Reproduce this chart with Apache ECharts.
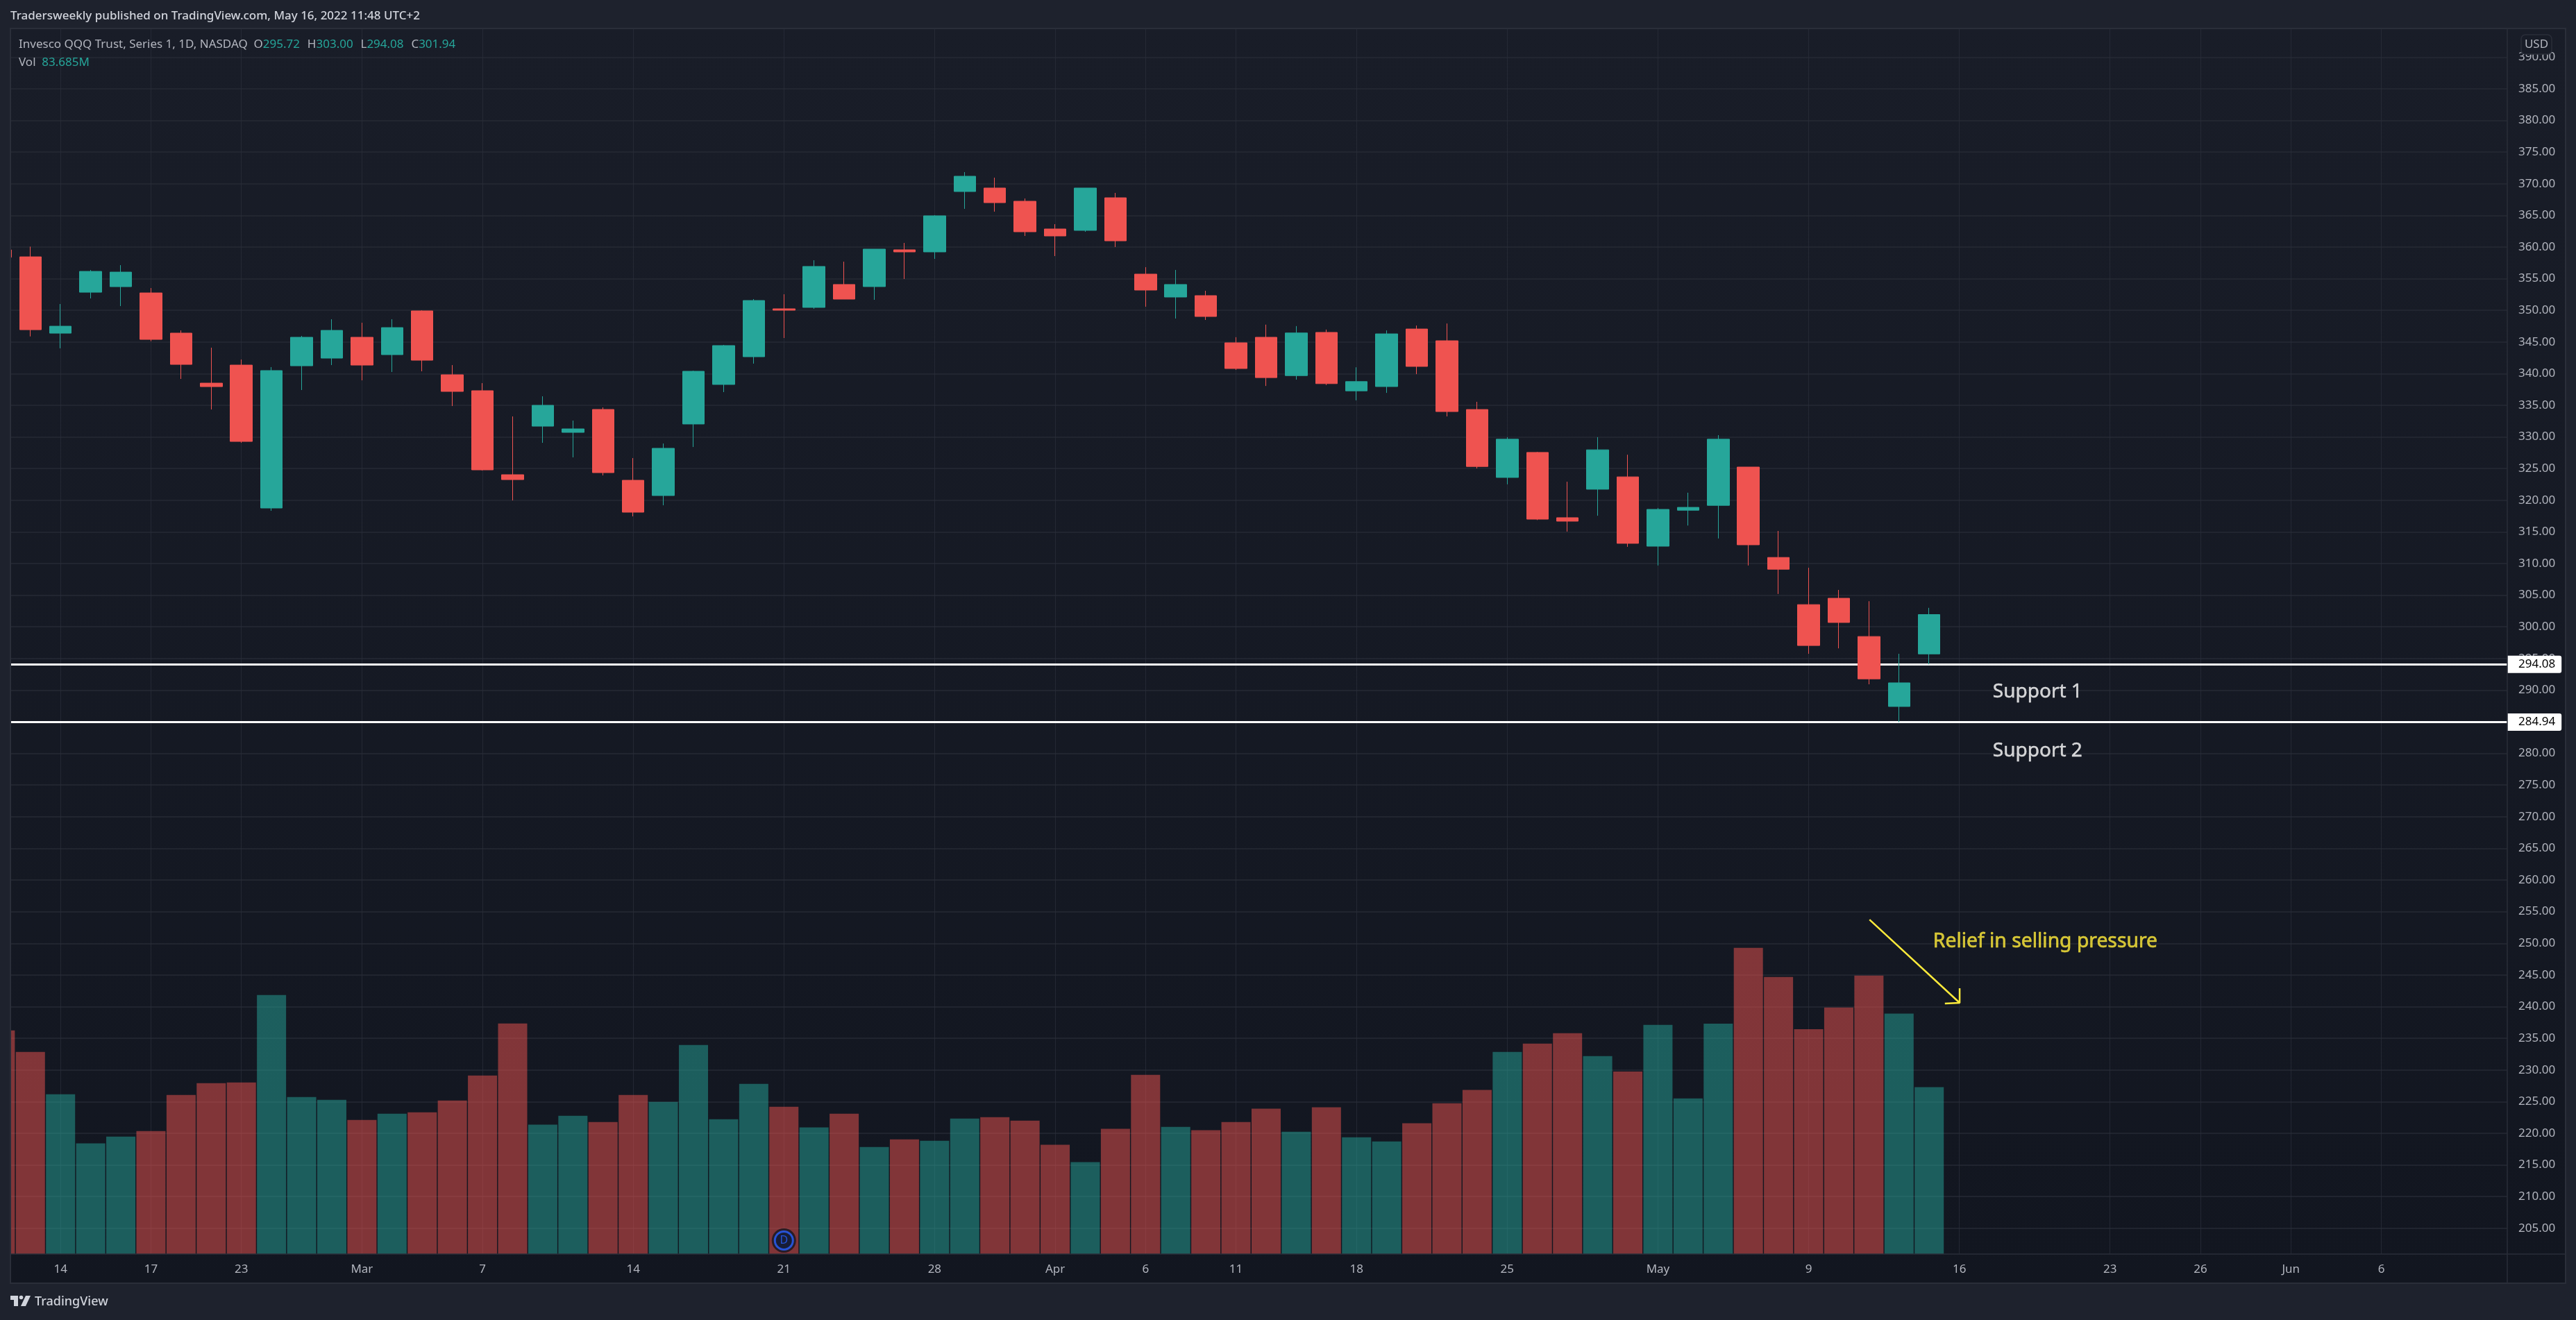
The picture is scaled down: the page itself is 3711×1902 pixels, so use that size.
<!DOCTYPE html>
<html><head><meta charset="utf-8">
<style>html,body{margin:0;padding:0;background:#1e222d}#c{width:3711px;height:1902px}</style>
<script src="https://cdn.jsdelivr.net/npm/echarts@6/dist/echarts.min.js"></script>
</head><body><div id="c"></div>
<script>
// Bar index: 0 = Feb 11 2022; -1 is the clipped bar at the left edge
const barIndex = [-1,0,1,2,3,4,5,6,7,8,9,10,11,12,13,14,15,16,17,18,19,20,21,22,23,24,25,26,27,28,29,30,31,32,33,34,35,36,37,38,39,40,41,42,43,44,45,46,47,48,49,50,51,52,53,54,55,56,57,58,59,60,61,62,63];
const opens  = [359.55,358.45,346.39,352.86,353.74,352.75,346.40,338.50,341.35,318.77,341.24,342.45,345.74,343.00,349.91,339.82,337.30,324.03,331.70,330.72,334.34,323.15,320.74,332.04,338.29,342.67,350.24,350.46,354.08,353.75,359.56,359.23,368.77,369.32,367.23,362.85,362.63,367.78,355.72,352.10,352.32,344.87,345.74,339.69,346.51,337.28,337.96,347.05,345.19,334.33,323.60,327.55,317.24,321.74,323.69,312.74,318.42,319.19,325.24,310.96,303.51,304.51,298.47,287.42,295.72];
const highs  = [360.00,360.06,351.00,356.37,357.14,353.52,346.83,344.10,342.23,341.03,345.96,348.59,348.04,348.59,350.00,341.35,338.50,333.24,336.42,332.58,334.66,326.66,328.96,340.47,344.54,351.77,352.54,357.91,357.69,359.67,360.65,365.04,371.84,370.96,367.67,363.61,369.32,368.55,356.82,356.38,353.09,345.75,347.74,347.51,346.96,341.00,346.83,347.60,347.92,335.55,329.96,327.64,322.92,329.96,327.19,318.78,321.19,330.28,325.24,315.15,309.33,305.83,304.05,295.74,303.00];
const lows   = [357.90,345.88,344.00,351.88,350.67,345.12,339.16,334.34,329.07,318.33,337.41,341.35,338.94,340.26,340.37,334.88,324.69,319.97,329.07,326.77,323.92,317.45,319.20,328.41,337.08,341.58,345.63,350.24,351.77,351.66,354.95,358.13,366.03,365.59,361.75,358.57,362.41,360.00,350.57,348.70,348.48,340.59,338.05,339.05,338.19,335.78,336.96,339.92,333.24,325.01,322.51,316.87,315.05,317.55,312.64,309.69,316.00,313.96,309.69,305.19,295.74,296.60,290.92,284.94,294.08];
const closes = [358.38,346.94,347.49,356.15,356.04,345.41,341.46,337.95,329.29,340.48,345.74,346.83,341.35,347.27,342.12,337.19,324.80,323.26,334.99,331.27,324.36,318.11,328.20,340.37,344.43,351.55,350.02,356.93,351.77,359.67,359.23,364.93,371.18,367.01,362.41,361.75,369.32,360.98,353.20,354.08,349.03,340.81,339.37,346.42,338.42,338.74,346.28,341.14,334.01,325.33,329.64,317.01,316.69,327.96,313.19,318.55,318.87,329.64,312.96,309.10,297.05,300.69,291.78,291.15,301.94];
// Volume in millions of shares
const volumes = [112.2,101.4,80.2,55.5,58.9,61.7,79.8,85.7,86.1,129.9,78.8,77.4,67.3,70.4,71.1,77.0,89.6,115.7,64.9,69.4,66.2,79.8,76.3,104.9,67.6,85.4,73.9,63.5,70.4,53.7,57.5,56.8,68.0,68.7,66.9,54.8,46.1,62.8,89.9,63.8,62.1,66.2,72.9,61.4,73.6,58.6,56.5,65.6,75.6,82.3,101.4,105.6,110.8,99.3,91.6,115.0,78.1,115.6,153.6,139.0,112.8,123.7,139.7,120.6,83.7];

const dateTickIndex  = [1,4,7,11,15,20,25,30,34,37,40,44,49,54,59,64,69,72,75,78];
const dateTickLabels = ['14','17','23','Mar','7','14','21','28','Apr','6','11','18','25','May','9','16','23','26','Jun','6'];
const priceTicks = [205,210,215,220,225,230,235,240,245,250,255,260,265,270,275,280,285,290,295,300,305,310,315,320,325,330,335,340,345,350,355,360,365,370,375,380,385,390];
const supportLevels = [294.08, 284.94];
const supportLabels = ['Support 1','Support 2'];
const supportLabelAnchors = [[65.11,289.67],[65.11,280.39]];
const lastOHLC = ['295.72','303.00','294.08','301.94'];
const lastVolume = '83.685M';
const dividendPoint = [25, 6.8];
const arrowPath = [[61.02,253.75],[64.01,240.6],[63.52,240.5],[64.01,240.6],[64.01,242.9]];
const annotationText = 'Relief in selling pressure';
const annotationAnchor = [63.13,250.25];

const UP='#26a69a', DOWN='#ef5350', TXT='#b2b5be', LINE='#2a2e39';
const FONT='"Noto Sans", sans-serif';

const candleData = barIndex.map((x,i)=>[x,opens[i],closes[i],lows[i],highs[i]]);
const volumeData = barIndex.map((x,i)=>({value:[x,volumes[i]],itemStyle:{color:(closes[i]>=opens[i]?'rgba(38,166,154,0.5)':'rgba(239,83,80,0.5)')}}));

const chart = echarts.init(document.getElementById('c'),null,{renderer:'canvas',width:3711,height:1902});
chart.setOption({
  animation:false,
  backgroundColor:'#1e222d',
  grid:{left:15,right:99,top:41,bottom:95,show:false},
  xAxis:{type:'value',min:-0.663,max:82.18,position:'bottom',
    axisLine:{show:false},
    axisTick:{show:false,customValues:dateTickIndex},
    axisLabel:{customValues:dateTickIndex,color:TXT,fontFamily:FONT,fontSize:17,margin:14,
      formatter:v=>dateTickLabels[dateTickIndex.indexOf(v)]||''},
    splitLine:{show:true,lineStyle:{color:'rgba(42,46,57,0.75)',width:1}}},
  yAxis:[
   {type:'value',min:200.91,max:394.53,position:'right',
    axisLine:{show:false},
    axisTick:{show:false,customValues:priceTicks},
    axisLabel:{customValues:priceTicks,color:TXT,fontFamily:FONT,fontSize:17,margin:16,align:'left',padding:[4,0,0,0],
      formatter:v=>v.toFixed(2)},
    splitLine:{show:true,lineStyle:{color:'#262a35',width:1.5}}},
   {type:'value',min:0,max:614.8,show:false,splitLine:{show:false}}
  ],
  series:[
   {type:'bar',name:'Vol',yAxisIndex:1,barWidth:42,data:volumeData,z:1,silent:true},
   {type:'line',name:'Support',data:[],z:1,silent:true,symbol:'none',
    markLine:{silent:true,symbol:'none',z:1,animation:false,
      lineStyle:{color:'#ffffff',width:3,type:'solid'},
      label:{show:true,position:'end',distance:0,color:'#000',backgroundColor:'#ffffff',
        fontFamily:FONT,fontSize:17,padding:[4,9,4,16],borderRadius:[0,3,3,0],
        formatter:p=>p.value.toFixed(2)},
      data:supportLevels.map(v=>({yAxis:v}))}},
   {type:'candlestick',name:'QQQ',barWidth:32,z:3,silent:true,data:candleData,
    encode:{x:0,y:[1,2,3,4]},
    itemStyle:{color:UP,color0:DOWN,borderColor:UP,borderColor0:DOWN,borderWidth:1}},
   {type:'line',name:'Arrow',data:arrowPath,z:4,silent:true,symbol:'none',
    lineStyle:{color:'#ffeb3b',width:2.5},clip:false},
   {type:'scatter',name:'Labels',data:supportLabelAnchors.map((p,i)=>({value:p,name:supportLabels[i]})),
    symbolSize:0,z:4,silent:true,
    label:{show:true,position:'right',distance:0,color:'#ffffff',fontFamily:FONT,fontSize:28,textBorderColor:'#ffffff',textBorderWidth:0.4,formatter:p=>p.name}},
   {type:'scatter',name:'Note',data:[{value:annotationAnchor,name:annotationText}],
    symbolSize:0,z:4,silent:true,
    label:{show:true,position:'right',distance:0,color:'#ffeb3b',fontFamily:FONT,fontSize:28.3,textBorderColor:'#ffeb3b',textBorderWidth:0.6,formatter:p=>p.name}},
   {type:'scatter',name:'DividendHalo',yAxisIndex:1,data:[dividendPoint],symbolSize:35,z:4,silent:true,
    itemStyle:{color:'#131722'}},
   {type:'scatter',name:'Dividend',yAxisIndex:1,data:[dividendPoint],symbolSize:26,z:5,silent:true,
    itemStyle:{color:'#131e3c',borderColor:'#2962ff',borderWidth:3},
    label:{show:true,position:'inside',formatter:'D',color:'#2962ff',fontFamily:FONT,fontSize:16}}
  ],
  graphic:[
   {type:'rect',z:-1,shape:{x:15,y:41,width:3681,height:1808},
    style:{fill:new echarts.graphic.LinearGradient(0,0,0,1,[{offset:0,color:'#191d28'},{offset:1,color:'#121620'}]),stroke:'#2a2e39',lineWidth:2}},
   {type:'rect',z:10,shape:{x:0,y:30,width:14,height:1830},style:{fill:'#1e222d'}},
   {type:'line',z:11,shape:{x1:15,y1:41,x2:15,y2:1849},style:{stroke:LINE,lineWidth:2}},
   {type:'line',z:2,shape:{x1:3612,y1:41,x2:3612,y2:1849},style:{stroke:LINE,lineWidth:1.5}},
   {type:'line',z:2,shape:{x1:15,y1:1807,x2:3696,y2:1807},style:{stroke:LINE,lineWidth:1.5}},
   {type:'text',z:20,x:15,y:23,style:{text:'Tradersweekly published on TradingView.com, May 16, 2022 11:48 UTC+2',
     fill:'#d1d4dc',font:'500 17px "Noto Sans", sans-serif',verticalAlign:'middle'}},
   {type:'text',z:20,x:27,y:64,style:{
     text:'Invesco QQQ Trust, Series 1, 1D, NASDAQ  O{v|'+lastOHLC[0]+'}  H{v|'+lastOHLC[1]+'}  L{v|'+lastOHLC[2]+'}  C{v|'+lastOHLC[3]+'}',
     fill:TXT,font:'17px "Noto Sans", sans-serif',verticalAlign:'middle',
     rich:{v:{fill:UP,font:'17px "Noto Sans", sans-serif',padding:[0,2,0,0]}}}},
   {type:'text',z:20,x:27,y:90,style:{text:'Vol  {v|'+lastVolume+'}',fill:TXT,font:'17px "Noto Sans", sans-serif',verticalAlign:'middle',
     rich:{v:{fill:UP,font:'17px "Noto Sans", sans-serif'}}}},
   {type:'rect',z:30,shape:{x:3632,y:50,width:44,height:28,r:6},style:{fill:'#181c27',stroke:LINE,lineWidth:1.5}},
   {type:'text',z:31,x:3654,y:64,style:{text:'USD',fill:TXT,font:'17px "Noto Sans", sans-serif',align:'center',verticalAlign:'middle'}},
   {type:'polygon',z:20,shape:{points:[[15,1867],[26,1867],[26,1882],[20,1882],[20,1873],[15,1873]]},style:{fill:'#d1d4dc'}},
   {type:'circle',z:20,shape:{cx:30.5,cy:1869.5,r:2.8},style:{fill:'#d1d4dc'}},
   {type:'polygon',z:20,shape:{points:[[37,1867],[44,1867],[37,1882],[30,1882]]},style:{fill:'#d1d4dc'}},
   {type:'text',z:20,x:50,y:1876,style:{text:'TradingView',fill:'#d1d4dc',font:'500 18px "Noto Sans", sans-serif',verticalAlign:'middle'}}
  ]
});
</script></body></html>
